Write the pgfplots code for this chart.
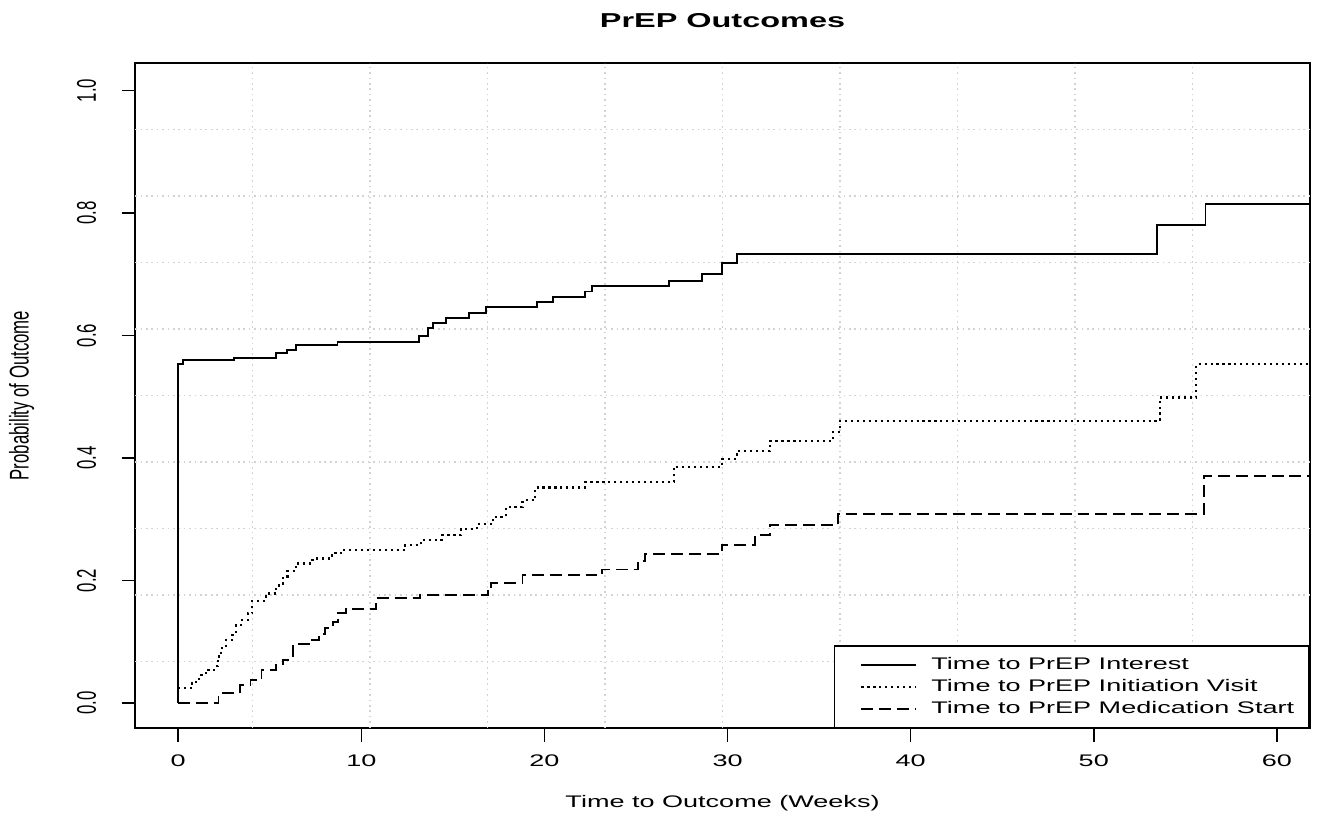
\documentclass[border=0pt]{standalone}
\usepackage{pgfplots}
\pgfplotsset{compat=1.18}
\usepackage{fontspec}
\setmainfont{Liberation Sans}
\begin{document}
\begin{tikzpicture}
\begin{axis}[
  scale only axis, width=434.4pt, height=246pt,
  xmin=-2.35, xmax=61.8, ymin=-0.041, ymax=1.045,
  axis line style={line width=0.6pt},
  tick align=outside, tick pos=left, major tick length=5pt,
  every tick/.style={black, line width=0.6pt},
  xtick={0,10,20,30,40,50,60},
  ytick={0,0.2,0.4,0.6,0.8,1},
  /pgf/number format/assume math mode=true,
  y tick label style={/pgf/number format/fixed, /pgf/number format/fixed zerofill, /pgf/number format/precision=1},
  tick label style={font=\fontsize{10}{12}\selectfont},
  xticklabel style={yshift=-2.5pt, yscale=0.62},
  yticklabel style={xshift=-5.9pt, anchor=south, yscale=0.62, rotate=90},
  extra x ticks={4.065,10.48,16.9,23.31,29.73,36.14,42.56,48.97,55.39},
  extra y ticks={0.0676,0.1762,0.2848,0.3934,0.502,0.6106,0.7192,0.8278,0.9364},
  extra tick style={grid=major, major tick length=0pt, xticklabel={}, yticklabel={}},
  major grid style={gray!35, line width=0.5pt, dash pattern=on 0.6pt off 1.4pt},
  title={PrEP Outcomes},
  xlabel={Time to Outcome (Weeks)},
  ylabel={Probability of Outcome},
  every axis title/.style={at={(axis description cs:0.5,1.064)}, anchor=center, yscale=0.62, font=\fontsize{12}{14}\selectfont\bfseries},
  every axis x label/.style={at={(axis description cs:0.5,-0.113)}, anchor=center, yscale=0.62, font=\fontsize{10}{12}\selectfont},
  every axis y label/.style={at={(axis description cs:-0.0967,0.5)}, anchor=center, yscale=0.62, rotate=90, font=\fontsize{10}{12}\selectfont},
  legend style={at={(1,0)}, anchor=south east, draw=black, line width=0.6pt, fill=white,
    font=\fontsize{10}{12}\selectfont, inner xsep=4.5pt, inner ysep=3.5pt, row sep=1.5pt, column sep=4.5pt,
    nodes={yscale=0.62, inner sep=1pt}},
  legend cell align=left,
  legend image code/.code={\path (0pt,0pt); \draw[#1] (5pt,0pt) -- (25pt,0pt);},
]
% Time to PrEP Interest
\addplot[black, line width=0.7pt, const plot] coordinates {
  (0,0) (0,0.553) (0.25,0.56) (3.06,0.564) (5.36,0.571) (5.96,0.576) (6.45,0.584)
  (8.7,0.589) (13.17,0.599) (13.66,0.612) (13.9,0.621) (14.6,0.628) (15.9,0.637)
  (16.8,0.646) (19.6,0.655) (20.45,0.663) (22.2,0.672) (22.6,0.681) (26.8,0.689)
  (28.6,0.701) (29.7,0.719) (30.5,0.733) (53.45,0.781) (56.1,0.815) (62,0.815)};
\addlegendentry{Time to PrEP Interest}
% Time to PrEP Initiation Visit
\addplot[black, line width=0.8pt, dash pattern=on 0.8pt off 1.4pt, const plot] coordinates {
  (0,0.024) (0.77,0.035) (1.15,0.046) (1.5,0.054) (1.97,0.06) (2.15,0.076) (2.33,0.09)
  (2.6,0.103) (2.95,0.111) (3.15,0.127) (3.43,0.135) (3.8,0.147) (4.05,0.167) (4.8,0.174)
  (4.97,0.179) (5.35,0.192) (5.7,0.204) (5.97,0.216) (6.43,0.228) (7.33,0.236) (8.4,0.245)
  (8.9,0.25) (12.4,0.258) (13.25,0.266) (14.4,0.274) (15.45,0.284) (16.3,0.292) (17.2,0.304)
  (17.9,0.32) (18.8,0.331) (19.5,0.352) (22.2,0.361) (27.07,0.386) (29.7,0.399) (30.5,0.411)
  (32.3,0.428) (35.75,0.443) (36.15,0.46) (53.6,0.499) (55.6,0.553) (62,0.553)};
\addlegendentry{Time to PrEP Initiation Visit}
% Time to PrEP Medication Start
\addplot[black, line width=0.7pt, dash pattern=on 4.4pt off 2.2pt, const plot] coordinates {
  (0,0) (2.2,0.016) (3.35,0.029) (3.95,0.037) (4.55,0.054) (5.32,0.063) (5.7,0.071)
  (6.25,0.096) (7.25,0.103) (7.7,0.113) (8.03,0.123) (8.45,0.132) (8.75,0.147) (9.15,0.153)
  (10.8,0.171) (13.2,0.176) (16.9,0.187) (17.1,0.196) (18.8,0.209) (23.15,0.218) (25.1,0.232)
  (25.5,0.244) (29.7,0.258) (31.5,0.274) (32.3,0.291) (36.05,0.309) (56.0,0.371) (62,0.371)};
\addlegendentry{Time to PrEP Medication Start}
\end{axis}
% page margins as in the reference
\path ([xshift=3.4pt]current axis.east) ([yshift=23.3pt]current axis.north) ([yshift=-33.7pt]current axis.south);
\end{tikzpicture}
\end{document}
